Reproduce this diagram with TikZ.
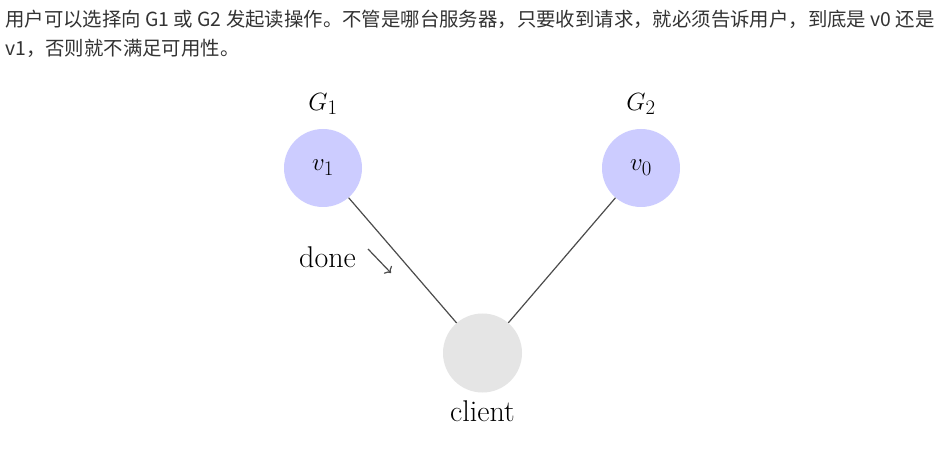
\documentclass[tikz,border=0pt]{standalone}
\usepackage{fontspec}
\usetikzlibrary{arrows.meta}
\newfontfamily\cjk{Noto Sans CJK SC}
\begin{document}
\begin{tikzpicture}[x=1pt,y=-1pt,
  big/.style={font=\fontsize{30}{36}\selectfont},
  server/.style={circle,fill=blue!20,minimum size=78pt,inner sep=0pt,big},
  clientnode/.style={circle,fill=gray!20,minimum size=79pt,inner sep=0pt},
  link/.style={draw=black!70,line width=1.2pt},
  para/.style={anchor=west,inner sep=0pt,text=black!80,font=\cjk\fontsize{19.4}{22}\selectfont}]
\useasboundingbox[fill=white] (0,0) rectangle (945,454);
\node[para] (l1) at (5,19) {用户可以选择向 G1 或 G2 发起读操作。不管是哪台服务器，只要收到请求，就必须告诉用户，到底是 v0 还是};
\node[para] (l2) at (5,48) {v1，否则就不满足可用性。};
\node[server] (g1) at (323,168) {$v_1$};
\node[server] (g2) at (641,168) {$v_0$};
\node[clientnode] (c) at (482.5,353) {};
\node[big] (g1lab) at (323,104) {$G_1$};
\node[big] (g2lab) at (641,104) {$G_2$};
\node[big] (clab) at (482.5,411) {client};
\node[big] (done) at (327.5,257) {done};
\coordinate (a1) at (368,249);
\coordinate (a2) at (391,273);
\draw[link] (g1) -- (c);
\draw[link] (g2) -- (c);
\draw[link,-{To[length=5pt,width=11pt]}] (a1) -- (a2);
\end{tikzpicture}
\end{document}
